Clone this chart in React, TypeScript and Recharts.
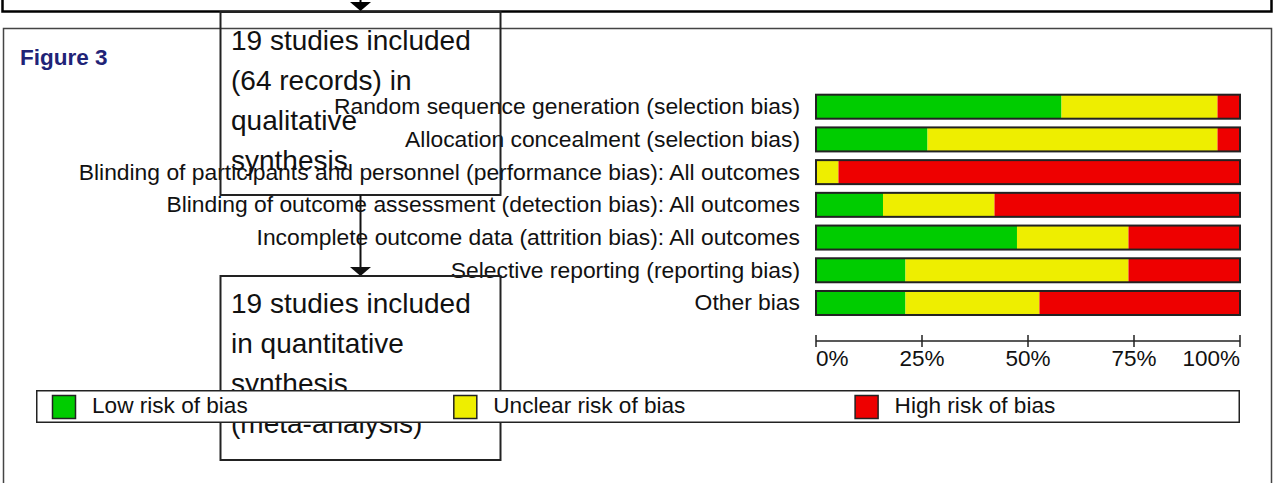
import { BarChart, Bar, XAxis, YAxis, Legend } from "recharts"

const FONT = '"Liberation Sans", Arial, sans-serif'

const domains = [
  "Random sequence generation (selection bias)",
  "Allocation concealment (selection bias)",
  "Blinding of participants and personnel (performance bias): All outcomes",
  "Blinding of outcome assessment (detection bias): All outcomes",
  "Incomplete outcome data (attrition bias): All outcomes",
  "Selective reporting (reporting bias)",
  "Other bias",
]

// percent of studies per judgement
const lowRisk = [57.9, 26.3, 0, 15.8, 47.4, 21.1, 21.1]
const unclearRisk = [36.8, 68.4, 5.3, 26.3, 26.3, 52.6, 31.6]
const highRisk = [5.3, 5.3, 94.7, 57.9, 26.3, 26.3, 47.3]

const percentTicks = [0, 25, 50, 75, 100]

const seriesNames = ["Low risk of bias", "Unclear risk of bias", "High risk of bias"]
const seriesColors = ["#00cc00", "#eeee00", "#ee0000"]

const boxOneLines = ["19 studies included", "(64 records) in", "qualitative", "synthesis"]
const boxTwoLines = ["19 studies included", "in quantitative", "synthesis", "(meta-analysis)"]

const data = domains.map((domain, i) => ({
  domain,
  low: lowRisk[i],
  unclear: unclearRisk[i],
  high: highRisk[i],
}))

function Segment(props: any) {
  const { x, y, width, height, fill } = props
  if (!width || width <= 0) return <g />
  return <rect x={x} y={y} width={width} height={height} fill={fill} />
}

// last segment also draws the outline of the whole bar
function LastSegment(props: any) {
  const { x, y, width, height, fill, background, payload } = props
  const left = background && typeof background.x === "number"
    ? background.x
    : x + width - (width * 100) / payload.high
  return (
    <g>
      <rect x={x} y={y} width={width} height={height} fill={fill} />
      <rect x={left} y={y} width={x + width - left} height={height} fill="none" stroke="#222" strokeWidth={2} />
    </g>
  )
}

function PercentTick(props: any) {
  const { x, y, payload, index } = props
  const anchor = index === 0 ? "start" : index === percentTicks.length - 1 ? "end" : "middle"
  return (
    <g>
      <line x1={x} x2={x} y1={y - 6} y2={y + 6} stroke="#222" strokeWidth={1.5} />
      <text x={x} y={y + 25} textAnchor={anchor} fontSize={22.5} fill="#111" fontFamily={FONT}>
        {payload.value}%
      </text>
    </g>
  )
}

function RiskLegend(props: any) {
  const items = [...(props.payload || [])].sort(
    (a: any, b: any) => seriesNames.indexOf(a.value) - seriesNames.indexOf(b.value)
  )
  return (
    <svg width={1204} height={33} style={{ display: "block" }}>
      <rect x={0.75} y={0.75} width={1202.5} height={31.5} fill="#fff" stroke="#222" strokeWidth={1.5} />
      {items.map((item: any, i: number) => {
        const left = 16.5 + i * 401.3
        return (
          <g key={i}>
            <rect x={left} y={5.5} width={23} height={23} fill={item.color} stroke="#222" strokeWidth={1.5} />
            <text x={left + 39.5} y={23.3} fontSize={22.6} fill="#111" fontFamily={FONT}>
              {item.value}
            </text>
          </g>
        )
      })}
    </svg>
  )
}

function FlowOverlay() {
  return (
    <svg
      width={1274}
      height={483}
      style={{ position: "absolute", left: 0, top: 0, zIndex: 2, pointerEvents: "none" }}
    >
      {/* box above the figure */}
      <path d="M2.5 -5 L2.5 11.5 L1271.5 11.5 L1271.5 -5" fill="none" stroke="#000" strokeWidth={2.5} />
      <line x1={360.5} x2={360.5} y1={-5} y2={3} stroke="#000" strokeWidth={2} />
      <polygon points="350,2 371,2 360.5,11" fill="#000" />

      {/* figure frame */}
      <rect x={3.5} y={28.5} width={1268} height={470} fill="none" stroke="#444" strokeWidth={1.5} />
      <text x={20} y={65} fontSize={22.5} fontWeight="bold" fill="#1f2377" fontFamily={FONT}>
        Figure 3
      </text>

      {/* flowchart boxes */}
      <rect x={220.5} y={12} width={280} height={183} fill="none" stroke="#222" strokeWidth={2} />
      {boxOneLines.map((t, i) => (
        <text key={t} x={231} y={50 + i * 40} fontSize={28} fill="#111" fontFamily={FONT}>
          {t}
        </text>
      ))}
      <line x1={360.5} x2={360.5} y1={195} y2={268} stroke="#111" strokeWidth={2} />
      <polygon points="350,267 371,267 360.5,276" fill="#111" />
      <rect x={220.5} y={276} width={280} height={184} fill="none" stroke="#222" strokeWidth={2} />
      {boxTwoLines.map((t, i) => (
        <text key={t} x={231} y={313 + i * 40} fontSize={28} fill="#111" fontFamily={FONT}>
          {t}
        </text>
      ))}
    </svg>
  )
}

export default function App() {
  return (
    <div style={{ position: "absolute", left: 0, top: 0, width: 1274, height: 483, background: "#fff", fontFamily: FONT }}>
      <div style={{ position: "absolute", left: 0, top: 0 }}>
        <BarChart
          width={1274}
          height={483}
          data={data}
          layout="vertical"
          barSize={24}
          margin={{ top: 90.7, right: 34, left: 0, bottom: 112 }}
          style={{ fontFamily: FONT }}
        >
          <XAxis
            type="number"
            domain={[0, 100]}
            ticks={percentTicks}
            height={30}
            tickSize={0}
            tickMargin={0}
            tick={<PercentTick />}
            axisLine={{ stroke: "#222", strokeWidth: 1.5 }}
            interval={0}
          />
          <YAxis
            type="category"
            dataKey="domain"
            width={816}
            padding={{ top: 0, bottom: 21.3 }}
            tickSize={0}
            tickMargin={16}
            axisLine={false}
            tickLine={false}
            interval={0}
            tick={{ fontSize: 22.85, fill: "#111", fontFamily: FONT, dy: -1 }}
          />
          <Legend
            layout="vertical"
            align="center"
            verticalAlign="middle"
            content={<RiskLegend />}
            wrapperStyle={{ left: 36, top: 390, width: 1204, height: 33, zIndex: 3 }}
          />
          <Bar dataKey="low" name={seriesNames[0]} stackId="a" fill={seriesColors[0]} shape={<Segment />} isAnimationActive={false} />
          <Bar dataKey="unclear" name={seriesNames[1]} stackId="a" fill={seriesColors[1]} shape={<Segment />} isAnimationActive={false} />
          <Bar dataKey="high" name={seriesNames[2]} stackId="a" fill={seriesColors[2]} shape={<LastSegment />} isAnimationActive={false} />
        </BarChart>
      </div>
      <FlowOverlay />
    </div>
  )
}
